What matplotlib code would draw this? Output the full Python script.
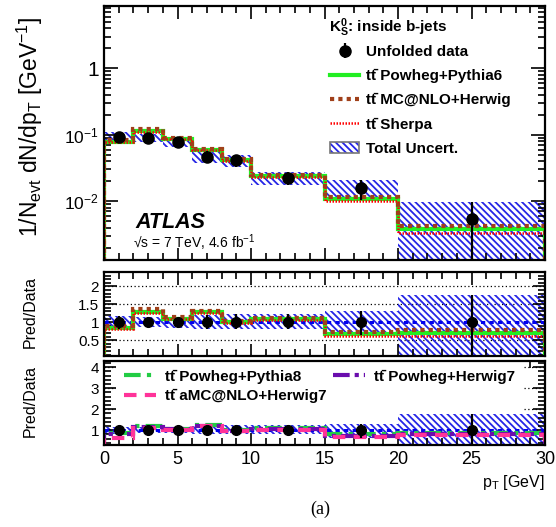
import numpy as np
import matplotlib
matplotlib.use("Agg")
import matplotlib.pyplot as plt
from matplotlib.lines import Line2D
from matplotlib.patches import Patch
from matplotlib.legend_handler import HandlerTuple
from matplotlib.ticker import FixedLocator, MultipleLocator, LogLocator, NullFormatter

plt.rcParams['font.family'] = ['Liberation Sans', 'DejaVu Sans']
plt.rcParams['mathtext.fontset'] = 'custom'
plt.rcParams['mathtext.rm'] = 'Liberation Sans'
plt.rcParams['mathtext.it'] = 'Liberation Sans:italic'
plt.rcParams['mathtext.bf'] = 'Liberation Sans:bold'
plt.rcParams['hatch.linewidth'] = 1.3

# --- data ---
bin_edges = [0, 2, 4, 6, 8, 10, 15, 20, 30]
data = [0.094, 0.089, 0.078, 0.047, 0.041, 0.022, 0.016, 0.0054]
# total uncertainty, relative (up / down)
unc_up = [0.18, 0.16, 0.13, 0.21, 0.23, 0.23, 0.31, 0.77]
unc_dn = [0.19, 0.14, 0.15, 0.20, 0.20, 0.20, 0.36, 1.00]

powheg_py6 = [0.078, 0.114, 0.086, 0.060, 0.041, 0.0238, 0.0107, 0.0038]
mcnlo_herwig = [0.083, 0.122, 0.090, 0.0616, 0.043, 0.0249, 0.0117, 0.0043]
sherpa = [0.077, 0.112, 0.085, 0.0588, 0.040, 0.0233, 0.0099, 0.00335]

# newer generators, only shown as ratio
ratio_powheg_py8 = [0.85, 1.22, 1.08, 1.27, 1.00, 1.10, 0.80, 0.85]
ratio_powheg_hw7 = [0.80, 1.15, 1.05, 1.20, 0.97, 1.05, 0.75, 0.80]
ratio_amcnlo_hw7 = [0.64, 1.10, 1.02, 1.19, 0.95, 1.02, 0.70, 0.78]

BLUE = '#2626e6'
GREEN = '#22ee22'
BROWN = '#a0401a'
HATCH = '\\\\\\\\\\'
TT = 'tt\u0304 '

edges = np.array(bin_edges, dtype=float)
centers = 0.5 * (edges[:-1] + edges[1:])
data = np.array(data)
up = np.array(unc_up)
dn = np.array(unc_dn)

fig = plt.figure(figsize=(5.56, 5.27), dpi=100)
W, H = 556.0, 527.0
x0, x1 = 104, 545
ax1 = fig.add_axes([x0 / W, 1 - 260 / H, (x1 - x0) / W, 254 / H])
ax2 = fig.add_axes([x0 / W, 1 - 356 / H, (x1 - x0) / W, 84 / H])
ax3 = fig.add_axes([x0 / W, 1 - 445 / H, (x1 - x0) / W, 84 / H])


def band(ax, lo, hi):
    ax.stairs(hi, edges, baseline=lo, fill=True, hatch=HATCH,
              facecolor='none', edgecolor=BLUE, lw=0, zorder=1.5)


def style(ax):
    ax.set_xlim(0, 30)
    ax.tick_params(which='both', direction='in', top=True, right=True, width=1.2)
    ax.tick_params(which='major', length=9)
    ax.tick_params(which='minor', length=5)
    ax.xaxis.set_major_locator(MultipleLocator(5))
    ax.xaxis.set_minor_locator(MultipleLocator(1))
    for s in ax.spines.values():
        s.set_linewidth(1.6)


# ---------- top panel ----------
ax1.set_yscale('log')
lo = np.clip(data * (1 - dn), 1e-6, None)
band(ax1, lo, data * (1 + up))
ax1.stairs(powheg_py6, edges, color=GREEN, lw=3, zorder=2)
ax1.stairs(sherpa, edges, color='red', lw=1.8, ls=(0, (0.6, 0.6)), zorder=2.1)
ax1.stairs(mcnlo_herwig, edges, color=BROWN, lw=3, ls=(0, (1, 1)), zorder=2.2)
eb = ax1.errorbar(centers, data, yerr=[data - lo, data * up], fmt='o', color='k',
                  ms=8, elinewidth=1.6, capsize=0, zorder=3)
ax1.set_ylim(1.3e-3, 8.7)
style(ax1)
ax1.yaxis.set_major_locator(FixedLocator([1e-2, 1e-1, 1]))
ax1.yaxis.set_minor_locator(LogLocator(base=10, subs=np.arange(2, 10)))
ax1.yaxis.set_minor_formatter(NullFormatter())
ax1.set_yticklabels([r'$10^{-2}$', r'$10^{-1}$', '1'])
for lab, fs in zip(ax1.get_yticklabels(), [12.5, 12.5, 15]):
    lab.set_fontsize(fs)
ax1.tick_params(axis='y', which='major', length=10)
ax1.tick_params(labelbottom=False)

fig.text(30 / W, 1 - 127 / H, r'1/N$_{\rm evt}$ dN/dp$_{\rm T}$ [GeV$^{-1}$]',
         rotation=90, ha='center', va='center', fontsize=16.5)

ax1.text(135 / W, 1 - 228 / H, 'ATLAS', transform=fig.transFigure,
         fontsize=15.5, fontweight='bold', style='italic', va='baseline')
ax1.text(133 / W, 1 - 248 / H, '√s = 7 TeV, 4.6 fb$^{-1}$', transform=fig.transFigure,
         fontsize=10, va='baseline')

ax1.text(329 / W, 1 - 28 / H, r'$\mathbf{K^0_S}$: inside b-jets', transform=fig.transFigure,
         fontsize=11, fontweight='bold', va='center')

h_py6 = Line2D([], [], color=GREEN, lw=3)
h_mcnlo = Line2D([], [], color=BROWN, lw=3, ls=(0, (1, 1)))
h_sherpa = Line2D([], [], color='red', lw=1.8, ls=(0, (0.6, 0.6)))
h_unc = (Patch(facecolor='none', edgecolor=BLUE, hatch=HATCH, lw=0),
         Patch(facecolor='none', edgecolor='#777777', lw=1.2))
leg = ax1.legend([eb, h_py6, h_mcnlo, h_sherpa, h_unc],
                 ['Unfolded data', TT + 'Powheg+Pythia6', TT + 'MC@NLO+Herwig',
                  TT + 'Sherpa', 'Total Uncert.'],
                 handler_map={tuple: HandlerTuple(ndivide=1)},
                 loc='upper left', bbox_to_anchor=(330 / W, 1 - 45 / H),
                 bbox_transform=fig.transFigure, frameon=False, borderpad=0,
                 borderaxespad=0, handlelength=1.9, handletextpad=0.45,
                 labelspacing=0.66, prop={'weight': 'bold', 'size': 11})

# ---------- middle ratio panel ----------
band(ax2, 1 - dn, 1 + up)
for y in [0.5, 1.5, 2.0]:
    ax2.axhline(y, color='k', ls=(0, (1, 2)), lw=0.9, zorder=1)
ax2.axhline(1, color='#0000ee', lw=2.2, ls=(0, (1.4, 1.4)), zorder=1.8)
ax2.stairs(np.array(powheg_py6) / data, edges, color=GREEN, lw=3, zorder=2)
ax2.stairs(np.array(sherpa) / data, edges, color='red', lw=1.8, ls=(0, (0.6, 0.6)), zorder=2.1)
ax2.stairs(np.array(mcnlo_herwig) / data, edges, color=BROWN, lw=3, ls=(0, (1, 1)), zorder=2.2)
ax2.errorbar(centers, np.ones_like(data), yerr=[dn, up], fmt='o', color='k',
             ms=7, elinewidth=1.6, capsize=0, zorder=3)
ax2.set_ylim(0.06, 2.4)
style(ax2)
ax2.yaxis.set_major_locator(FixedLocator([0.5, 1, 1.5, 2]))
ax2.yaxis.set_minor_locator(MultipleLocator(0.1))
ax2.set_yticklabels(['0.5', '1', '1.5', '2'], fontsize=11)
ax2.tick_params(labelbottom=False)
fig.text(30 / W, 1 - 312 / H, 'Pred/Data', rotation=90, ha='center', va='center', fontsize=11.5)

# ---------- bottom ratio panel ----------
band(ax3, 1 - dn, 1 + up)
for y in [2, 3, 4]:
    ax3.axhline(y, color='k', ls=(0, (1, 2)), lw=0.9, zorder=1)
ax3.axhline(1, color='#0000ee', lw=2.2, ls=(0, (1.4, 1.4)), zorder=1.8)
ax3.stairs(ratio_powheg_py8, edges, color='#22cc44', lw=3, ls=(0, (4, 1.5, 1, 1.5)), zorder=2)
ax3.stairs(ratio_powheg_hw7, edges, color='#6a0dad', lw=3,
           ls=(0, (4, 1.2, 1, 1.2, 1, 1.2)), zorder=2.1)
ax3.stairs(ratio_amcnlo_hw7, edges, color='#ff3399', lw=3, ls=(0, (3, 2)), zorder=2.2)
ax3.errorbar(centers, np.ones_like(data), yerr=[dn, up], fmt='o', color='k',
             ms=7, elinewidth=1.6, capsize=0, zorder=3)
ax3.set_ylim(0.3, 4.3)
style(ax3)
ax3.yaxis.set_major_locator(FixedLocator([1, 2, 3, 4]))
ax3.yaxis.set_minor_locator(MultipleLocator(0.2))
ax3.set_yticklabels(['1', '2', '3', '4'], fontsize=11)
ax3.set_xticks([0, 5, 10, 15, 20, 25, 30])
ax3.set_xticklabels(['0', '5', '10', '15', '20', '25', '30'], fontsize=13)
ax3.tick_params(axis='x', pad=4)
fig.text(30 / W, 1 - 401 / H, 'Pred/Data', rotation=90, ha='center', va='center', fontsize=11.5)
fig.text(545 / W, 1 - 483 / H, r'p$_{\rm T}$ [GeV]', ha='right', va='center', fontsize=11.5)

h8 = Line2D([], [], color='#22cc44', lw=3, ls=(0, (4, 1.5, 1, 1.5)))
hh = Line2D([], [], color='#6a0dad', lw=3, ls=(0, (4, 1.2, 1, 1.2, 1, 1.2)))
ha = Line2D([], [], color='#ff3399', lw=3, ls=(0, (3, 2)))
leg3 = ax3.legend([h8, ha, hh],
                  [TT + 'Powheg+Pythia8', TT + 'aMC@NLO+Herwig7', TT + 'Powheg+Herwig7'],
                  ncol=2, loc='upper left', bbox_to_anchor=(116 / W, 1 - 362 / H),
                  bbox_transform=fig.transFigure, frameon=True, facecolor='white',
                  edgecolor='none', framealpha=1, fancybox=False, borderpad=0.5,
                  borderaxespad=0, handlelength=2.1, handletextpad=0.6,
                  columnspacing=0.4, labelspacing=0.33,
                  prop={'weight': 'bold', 'size': 11})
leg3.set_zorder(2.4)

fig.text(320 / W, 1 - 509 / H, '(a)', ha='center', va='center', fontsize=13,
         family=['Liberation Serif', 'DejaVu Serif'])

fig.savefig('out.png', dpi=100)
